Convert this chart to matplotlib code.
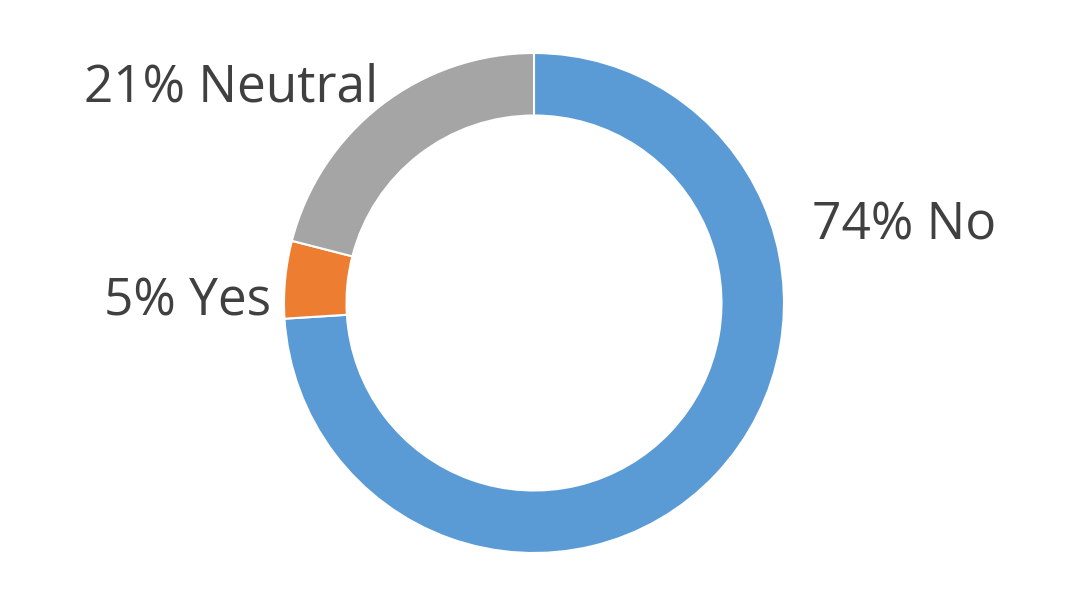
import matplotlib.pyplot as plt

# data
labels = ['No', 'Yes', 'Neutral']
shares = [74, 5, 21]
colors = ['#5B9BD5', '#ED7D31', '#A5A5A5']

plt.rcParams['font.family'] = ['Open Sans', 'DejaVu Sans']

fig = plt.figure(figsize=(10.66, 6.07), dpi=100)
ax = fig.add_axes([0, 0, 1, 1])

ax.pie(shares, colors=colors, startangle=90, counterclock=False,
       radius=1.0, wedgeprops=dict(width=0.25, edgecolor='white', linewidth=1.5))

# label placement (text positions only)
text_pos = {
    'No': (1.112, 0.306, 'left'),
    'Yes': (-1.052, 0.006, 'right'),
    'Neutral': (-0.624, 0.860, 'right'),
}
for lab, val in zip(labels, shares):
    x, y, ha = text_pos[lab]
    ax.text(x, y, f'{val}% {lab}', fontsize=37, color='#404040',
            ha=ha, va='center')

ax.set_xlim(-534 / 250, 532 / 250)
ax.set_ylim(-304 / 250, 303 / 250)
ax.set_aspect('equal')
ax.axis('off')

fig.savefig('out.png', dpi=100, facecolor='white')
